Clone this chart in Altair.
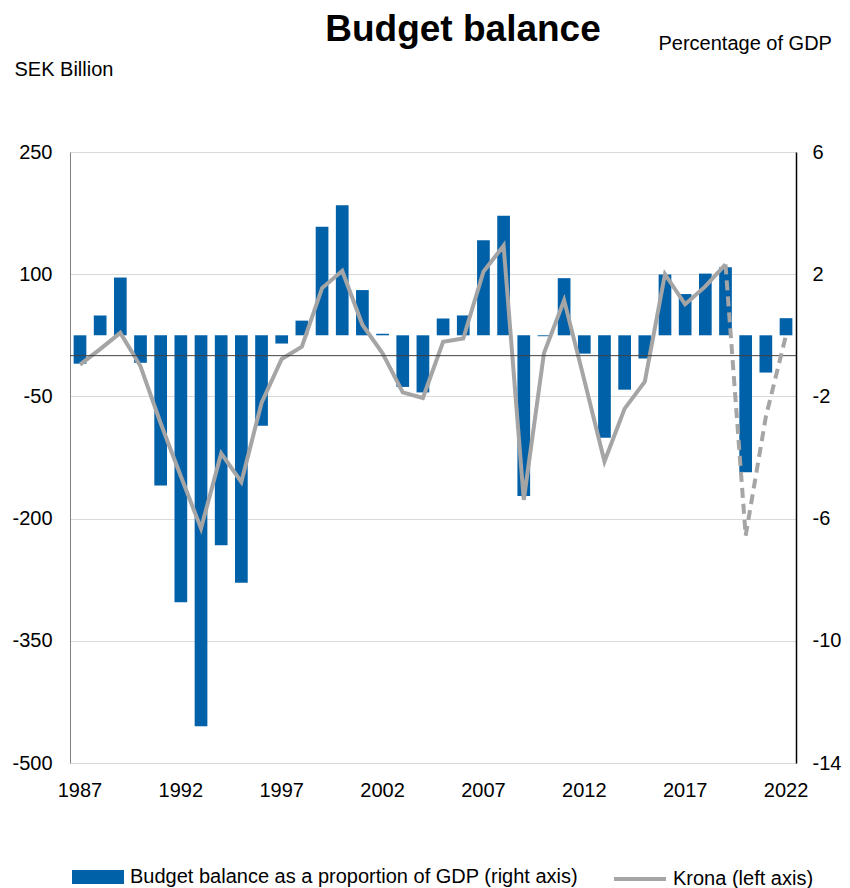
import altair as alt
import pandas as pd

years = list(range(1987, 2023))

# Budget balance as a proportion of GDP (%), right axis
balance_pct = [-0.93, 0.65, 1.89, -0.90, -4.92, -8.74, -12.80, -6.87, -8.10, -2.96,
               -0.27, 0.48, 3.55, 4.26, 1.48, 0.05, -1.69, -1.87, 0.55, 0.65,
               3.11, 3.91, -5.26, -0.03, 1.87, -0.60, -3.35, -1.78, -0.76, 1.99,
               1.35, 2.02, 2.23, -4.48, -1.22, 0.56]

# Krona (SEK billion), left axis - outcome
krona_years = list(range(1987, 2020))
krona_sek = [-11, 8, 28, -13, -83, -148, -212, -120, -155, -58,
             -4, 11, 83, 104, 38, 3, -45, -52, 17, 21,
             103, 135, -177, 3, 68, -30, -130, -65, -32, 100,
             63, 85, 112]

# Krona (SEK billion), forecast (dashed)
fc_years = [2019, 2020, 2021, 2022]
fc_sek = [112, -221, -75, 25]

x_ticks = [1987, 1992, 1997, 2002, 2007, 2012, 2017, 2022]
left_ticks = [250, 100, -50, -200, -350, -500]
right_ticks = [6, 2, -2, -6, -10, -14]

BAR_NAME = "Budget balance as a proportion of GDP (right axis)"
LINE_NAME = "Krona (left axis)"

BLUE = "#0060A8"
GREY = "#A5A5A5"
FONT = "Liberation Sans"

bars_df = pd.DataFrame({"year": years, "pct": balance_pct, "series": BAR_NAME})
line_df = pd.DataFrame({"year": krona_years, "sek": krona_sek, "series": LINE_NAME})
fc_df = pd.DataFrame({"year": fc_years, "sek": fc_sek})
zero_df = pd.DataFrame({"z": [0]})

x_enc = alt.X(
    "year:O",
    scale=alt.Scale(domain=years, paddingInner=0.37, paddingOuter=0.18),
    axis=alt.Axis(values=x_ticks, ticks=False, labelAngle=0, labelFontSize=20,
                  labelPadding=17, labelColor="black", domainColor="#D9D9D9",
                  domainWidth=1, title=None, grid=False),
)

bars = alt.Chart(bars_df).mark_bar().encode(
    x=x_enc,
    y=alt.Y("pct:Q",
            scale=alt.Scale(domain=[-14, 6], nice=False, zero=False),
            axis=alt.Axis(orient="right", values=right_ticks, grid=False, ticks=False,
                          domainColor="black", domainWidth=1.5, labelFontSize=20,
                          labelColor="black", labelPadding=16,
                          labelExpr="'' + datum.value",
                          title="Percentage of GDP", titleAngle=0, titleAlign="left",
                          titleBaseline="alphabetic", titleX=-138, titleY=-103,
                          titleFontSize=20, titleFontWeight="normal", titleColor="black")),
    fill=alt.Fill("series:N",
                  scale=alt.Scale(domain=[BAR_NAME], range=[BLUE]),
                  legend=alt.Legend(orient="none", legendX=2, legendY=699, title=None,
                                    symbolType="M-1,-0.27H1V0.27H-1Z", symbolSize=2704,
                                    symbolStrokeWidth=0, labelFontSize=20, labelOffset=6,
                                    labelLimit=700, padding=0, labelColor="black")),
)

left_y = alt.Y("sek:Q",
               scale=alt.Scale(domain=[-500, 250], nice=False, zero=False),
               axis=alt.Axis(orient="left", values=left_ticks, grid=True,
                             gridColor="#D9D9D9", gridWidth=1, ticks=False,
                             domainColor="#808080", domainWidth=1, labelFontSize=20,
                             labelColor="black", labelPadding=18,
                             labelExpr="'' + datum.value",
                             title="SEK Billion", titleAngle=0, titleAlign="left",
                             titleBaseline="alphabetic", titleX=-56, titleY=-77,
                             titleFontSize=20, titleFontWeight="normal", titleColor="black"))

zero_rule = alt.Chart(zero_df).mark_rule(color="#404040", strokeWidth=1).encode(
    y=alt.Y("z:Q")
)

solid = alt.Chart(line_df).mark_line(strokeWidth=4, strokeJoin="miter").encode(
    x=x_enc,
    y=left_y,
    stroke=alt.Stroke("series:N",
                      scale=alt.Scale(domain=[LINE_NAME], range=[GREY]),
                      legend=alt.Legend(orient="none", legendX=542, legendY=699, title=None,
                                        symbolType="stroke", symbolSize=2704,
                                        symbolStrokeWidth=4, labelFontSize=20, labelOffset=5,
                                        labelLimit=400, padding=0, labelColor="black")),
)

dashed = alt.Chart(fc_df).mark_line(strokeWidth=4, strokeDash=[10, 6], color=GREY).encode(
    x=x_enc,
    y=alt.Y("sek:Q"),
)

krona_layer = alt.layer(solid, zero_rule, dashed)

chart = alt.layer(bars, krona_layer).resolve_scale(
    y="independent"
).properties(
    width=726,
    height=611,
    title=alt.TitleParams(text="Budget balance", fontSize=37, fontWeight="bold",
                          anchor="middle", dx=30, dy=16, offset=0, color="black", font=FONT),
    autosize=alt.AutoSizeParams(type="none"),
    padding={"left": 70, "top": 152, "right": 54, "bottom": 125},
).configure(
    font=FONT,
).configure_view(
    stroke=None
).configure_axis(
    labelFont=FONT, titleFont=FONT
).configure_legend(
    labelFont=FONT
)

chart.save("out.html", embed_options={"renderer": "svg", "actions": False})
